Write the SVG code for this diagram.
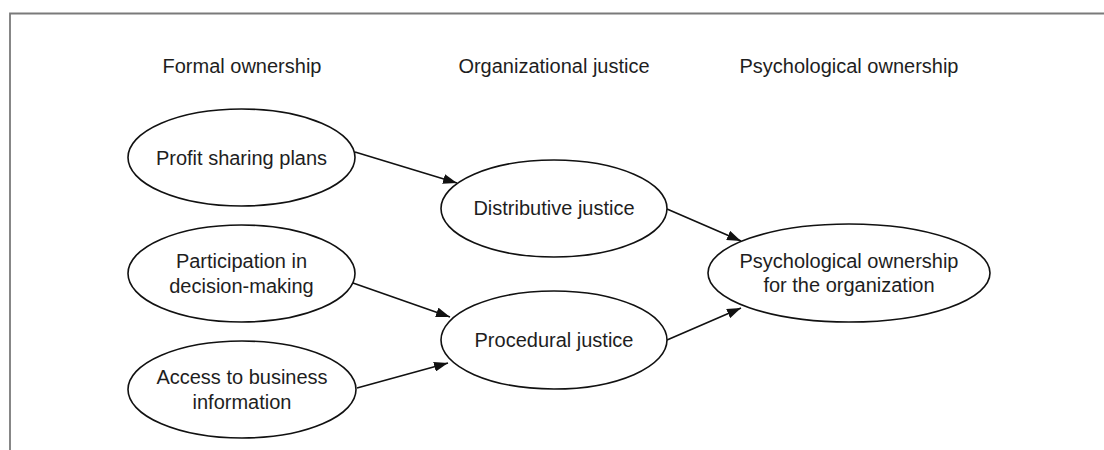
<svg xmlns="http://www.w3.org/2000/svg" width="1104" height="450" viewBox="0 0 1104 450">
  <style>
    .frame { fill: none; stroke: #7a7a7a; stroke-width: 1.8; }
    .node ellipse { fill: #ffffff; stroke: #111111; stroke-width: 1.6; }
    text { font-family: "Liberation Sans", Arial, Helvetica, sans-serif; font-size: 20px; fill: #1e1e1e; text-anchor: middle; }
    .edge { fill: none; stroke: #111111; stroke-width: 1.6; marker-end: url(#arrow); }
  </style>
  <defs>
    <marker id="arrow" viewBox="0 0 14 10" refX="14" refY="5" markerWidth="14" markerHeight="10" markerUnits="userSpaceOnUse" orient="auto">
      <path d="M0,0 L14,5 L0,10 Z" fill="#111111"/>
    </marker>
  </defs>
  <rect width="1104" height="450" fill="#ffffff"/>

  <!-- outer frame: top and left edges -->
  <path class="frame" d="M10,450 L10,13.5 L1104,13.5"/>

  <!-- column headings -->
  <g id="headings">
    <text x="242" y="73">Formal ownership</text>
    <text x="554" y="73">Organizational justice</text>
    <text x="849" y="73">Psychological ownership</text>
  </g>

  <!-- connectors -->
  <g id="connectors">
    <line class="edge" x1="355" y1="152" x2="457" y2="183"/>
    <line class="edge" x1="353" y1="283" x2="450" y2="317"/>
    <line class="edge" x1="357" y1="388" x2="448" y2="363"/>
    <line class="edge" x1="667" y1="209" x2="741" y2="241"/>
    <line class="edge" x1="667" y1="340" x2="741" y2="308"/>
  </g>

  <g id="profit-sharing" class="node">
    <ellipse cx="241.5" cy="157.5" rx="113.5" ry="48.5"/>
    <text x="241.5" y="165">Profit sharing plans</text>
  </g>
  <g id="participation" class="node">
    <ellipse cx="241.5" cy="273.5" rx="113.5" ry="48.5"/>
    <text x="241.5" y="268">Participation in</text>
    <text x="241.5" y="293">decision-making</text>
  </g>
  <g id="business-information" class="node">
    <ellipse cx="242" cy="389.5" rx="114" ry="48.5"/>
    <text x="242" y="384">Access to business</text>
    <text x="242" y="409">information</text>
  </g>
  <g id="distributive-justice" class="node">
    <ellipse cx="554" cy="208.5" rx="113" ry="48.5"/>
    <text x="554" y="215">Distributive justice</text>
  </g>
  <g id="procedural-justice" class="node">
    <ellipse cx="554" cy="340" rx="113" ry="49"/>
    <text x="554" y="347">Procedural justice</text>
  </g>
  <g id="psychological-ownership" class="node">
    <ellipse cx="849" cy="273" rx="141" ry="49"/>
    <text x="849" y="268">Psychological ownership</text>
    <text x="849" y="292">for the organization</text>
  </g>
</svg>
